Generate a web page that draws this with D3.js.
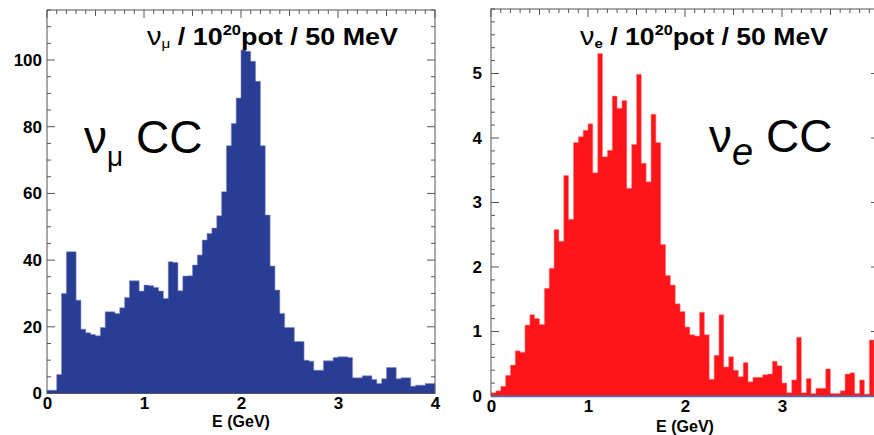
<!DOCTYPE html>
<html><head><meta charset="utf-8">
<script src="https://cdn.jsdelivr.net/npm/d3@7"></script>
<style>
body{margin:0;background:#fff}
svg{display:block}
text{font-family:"Liberation Sans",Arial,Helvetica,sans-serif}
</style>
</head><body>
<svg id="chart" width="874" height="435"></svg>
<script>
// 50 MeV energy bins from 0 to 4 GeV
const binWidth = 0.05;
const energyTicks = [0, 1, 2, 3, 4];
const numuTicks = [0, 20, 40, 60, 80, 100];
const nueTicks = [0, 1, 2, 3, 4, 5];

// nu_mu CC events / 1e20 pot / 50 MeV
const numuCounts = [
  1, 1, 5.7, 30, 42.5, 42.5, 28, 19.3, 18.2, 17.7,
  17.3, 19.8, 24.5, 24.5, 24.0, 25.7, 28.8, 33.8, 33.8, 30.7,
  32.5, 32.3, 31.8, 30.7, 28.5, 39.5, 39.3, 30.8, 35.2, 35.3,
  38.5, 41.5, 46, 48, 49.6, 53.3, 60.5, 74.3, 81, 88.6,
  103, 102.6, 99.6, 93.6, 74.3, 53.5, 38.2, 31, 24, 19.8,
  19.8, 15.6, 15.6, 10, 9.7, 7, 7, 9.8, 9.8, 10.8,
  11, 11, 10.8, 4.7, 4.7, 5.3, 5.3, 4.2, 3.0, 4.4,
  7.8, 7.8, 4.4, 4.7, 4.7, 2.2, 2.5, 2.5, 3.0, 3.0
];

// nu_e CC events / 1e20 pot / 50 MeV
const nueCounts = [
  0.05, 0.08, 0.15, 0.32, 0.48, 0.70, 0.68, 1.10, 1.26, 1.20,
  1.11, 1.67, 1.98, 2.58, 2.40, 3.42, 2.74, 3.93, 4.02, 4.12,
  4.22, 3.46, 5.31, 3.71, 3.81, 4.65, 4.46, 4.58, 3.22, 3.90,
  4.99, 3.61, 3.32, 4.37, 3.93, 2.35, 1.87, 1.72, 1.43, 1.31,
  1.07, 0.95, 0.93, 1.30, 0.95, 0.26, 0.63, 1.26, 0.45, 0.61,
  0.40, 0.30, 0.52, 0.22, 0.29, 0.29, 0.33, 0.34, 0.54, 0.47,
  0.20, 0.05, 0.25, 0.91, 0.05, 0.27, 0.04, 0.12, 0.12, 0.42,
  0.04, 0.04, 0.08, 0.34, 0.36, 0.04, 0.25, 0.03, 0.87, 0
];

const svg = d3.select("#chart");
const frameColor = "#555";

function drawPanel(o) {
  const x = d3.scaleLinear().domain([0, 4]).range(o.xRange);
  const y = d3.scaleLinear().domain([0, o.yMax]).range(o.yRange);
  const g = svg.append("g");

  const bins = o.counts.map((v, i) => ({x0: i * binWidth, x1: (i + 1) * binWidth, v}));

  // histogram as one filled step shape
  const pts = [[x(0), y(0)]];
  bins.forEach(d => { pts.push([x(d.x0), y(d.v)]); pts.push([x(d.x1), y(d.v)]); });
  pts.push([x(4), y(0)]);
  g.append("path")
    .attr("d", d3.line()(pts) + "Z")
    .attr("fill", o.fill)
    .attr("stroke", o.edge)
    .attr("stroke-width", 0.8)
    .attr("stroke-opacity", 0.7);

  // frame
  g.append("rect")
    .attr("x", x(0)).attr("y", y(o.yMax))
    .attr("width", x(4) - x(0)).attr("height", y(0) - y(o.yMax))
    .attr("fill", "none").attr("stroke", frameColor).attr("stroke-width", 1);

  // y ticks (inward) on both sides
  const yMinor = d3.range(0, o.yMax + 1e-9, o.yMinorStep);
  const yMajorSet = new Set(o.yTicks.map(v => +v.toFixed(4)));
  yMinor.forEach(v => {
    const len = yMajorSet.has(+v.toFixed(4)) ? 8 : 4;
    g.append("line").attr("x1", x(0)).attr("x2", x(0) + len)
      .attr("y1", y(v)).attr("y2", y(v)).attr("stroke", frameColor);
    g.append("line").attr("x1", x(4)).attr("x2", x(4) - len)
      .attr("y1", y(v)).attr("y2", y(v)).attr("stroke", frameColor);
  });

  // x ticks on top (inward)
  d3.range(0, 4.0001, 0.1).forEach(e => {
    const r = Math.round(e * 10);
    const len = r % 10 === 0 ? 8 : (r % 5 === 0 ? 6 : 4);
    g.append("line").attr("x1", x(e)).attr("x2", x(e))
      .attr("y1", y(o.yMax)).attr("y2", y(o.yMax) + len).attr("stroke", frameColor);
  });

  if (o.baseline) {
    g.append("line").attr("x1", x(0)).attr("x2", x(4))
      .attr("y1", y(0) + 0.5).attr("y2", y(0) + 0.5)
      .attr("stroke", o.baseline).attr("stroke-width", 1.6);
  }

  // tick labels
  const yAxis = g.append("g").attr("transform", `translate(${x(0)},0)`)
    .call(d3.axisLeft(y).tickValues(o.yTicks).tickFormat(d3.format("d")).tickSize(0).tickPadding(o.yPad));
  const xAxis = g.append("g").attr("transform", `translate(0,${y(0)})`)
    .call(d3.axisBottom(x).tickValues(energyTicks).tickFormat(d3.format("d")).tickSize(0).tickPadding(o.xPad));
  [yAxis, xAxis].forEach(a => {
    a.select(".domain").remove();
    a.selectAll("text").attr("font-size", 17).attr("font-weight", "bold")
      .attr("fill", "#000").attr("font-family", '"Liberation Sans",Arial,sans-serif');
  });

  // axis title
  g.append("text").attr("x", x(2)).attr("y", o.xTitleY)
    .attr("text-anchor", "middle").attr("font-size", 16).attr("font-weight", "bold")
    .text("E (GeV)");

  return {x, y, g};
}

drawPanel({
  counts: numuCounts, xRange: [47, 435], yMax: 115, yRange: [393.5, 10],
  yTicks: numuTicks, yMinorStep: 5, fill: "#2a3d95", edge: "#7b89c9",
  yPad: 5, xPad: 3, xTitleY: 427
});
drawPanel({
  counts: nueCounts, xRange: [491, 879], yMax: 6, yRange: [396, 9],
  yTicks: nueTicks, yMinorStep: 0.2, fill: "#ff1419", edge: "#ff8a8a",
  baseline: "#5566bb", yPad: 9, xPad: 4, xTitleY: 432
});

// panel titles
function title(x, y, sub, boldSub, len) {
  const t = svg.append("text").attr("x", x).attr("y", y)
    .attr("font-size", 23).attr("font-weight", "bold")
    .attr("textLength", len).attr("lengthAdjust", "spacingAndGlyphs");
  t.append("tspan").attr("font-weight", "normal").attr("font-size", 25).text("\u03bd");
  t.append("tspan").attr("font-size", 13).attr("dy", 3)
    .attr("font-weight", boldSub ? "bold" : "normal").text(sub);
  t.append("tspan").attr("dy", -3).text(" / 10");
  t.append("tspan").attr("font-size", 14).attr("dy", -10).text("20");
  t.append("tspan").attr("dy", 10).text("pot / 50 MeV");
}
title(147, 45, "\u03bc", false, 251);
title(580, 45, "e", true, 248);

// channel labels
function channel(x, y, sub, italic, subSize, subDy) {
  const t = svg.append("text").attr("x", x).attr("y", y).attr("font-size", 46);
  t.append("tspan").text("\u03bd");
  t.append("tspan").attr("font-size", subSize).attr("dy", subDy)
    .attr("font-style", italic ? "italic" : "normal").text(sub);
  t.append("tspan").attr("dy", -subDy).text(" CC");
}
channel(84, 153, "\u03bc", false, 28, 13);
channel(709, 152, "e", true, 38, 13);
</script>
</body></html>
